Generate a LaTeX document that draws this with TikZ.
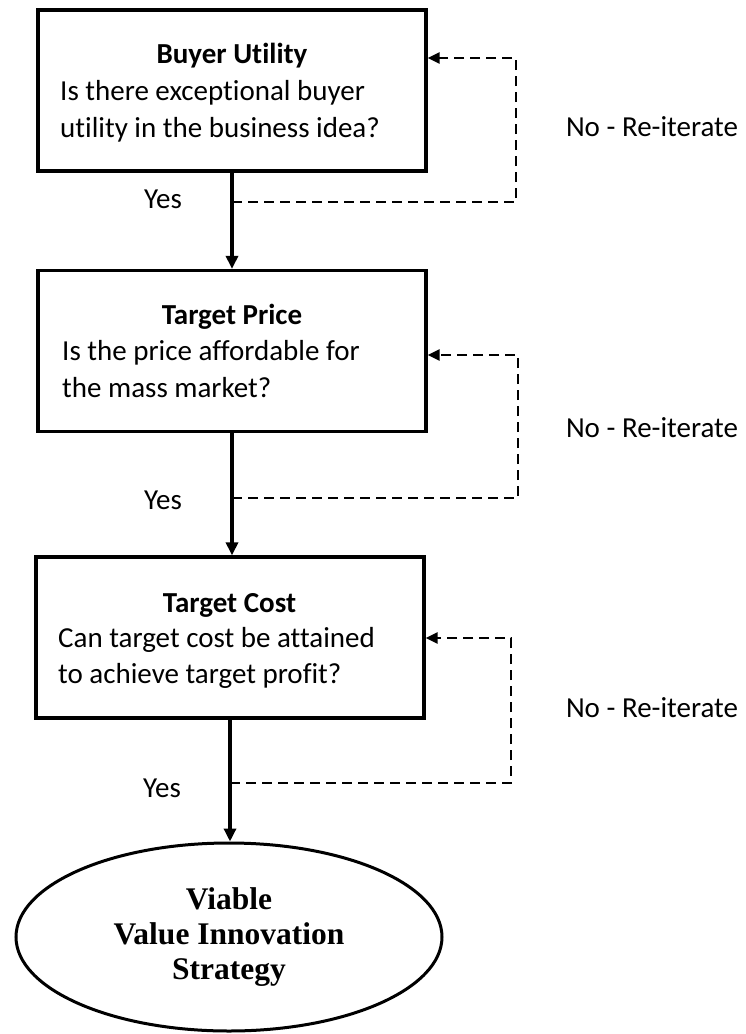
\documentclass[tikz,border=0pt]{standalone}
\usepackage{fontspec}
\setmainfont{Carlito}[Ligatures=NoCommon]
\newfontfamily\goalfont{Liberation Serif}
\usetikzlibrary{arrows.meta,shapes.geometric}
\begin{document}
\begin{tikzpicture}[x=1pt,y=-1pt,
  stepbox/.style={draw,line width=3.3pt,minimum width=388pt,minimum height=161pt,inner sep=0pt},
  boxtitle/.style={anchor=base,inner sep=0pt,font=\fontsize{29}{34}\selectfont\bfseries},
  boxline/.style={anchor=base west,inner sep=0pt,font=\fontsize{29}{34}\selectfont},
  yeslbl/.style={anchor=base,inner sep=0pt,font=\fontsize{29}{34}\selectfont},
  nolbl/.style={anchor=base,inner sep=0pt,font=\fontsize{29}{34}\selectfont},
  flow/.style={line width=3.3pt,-{Triangle[length=13pt,width=12pt]}},
  backloop/.style={dash pattern=on 10pt off 6pt,line width=2.8pt,-{Triangle[length=12pt,width=11pt]}},
  goalshape/.style={ellipse,draw,line width=3pt,minimum width=426pt,minimum height=188pt,
    inner sep=0pt,align=center,font=\fontsize{31.5}{35}\selectfont\goalfont\bfseries}
]
\useasboundingbox (0,0) rectangle (745,1034);

% decision boxes
\node[stepbox] (b1) at (232,90.5) {};
\node[stepbox] (b2) at (232,351) {};
\node[stepbox] (b3) at (230,637.5) {};

% box texts
\node[boxtitle] (t1) at (232,63) {Buyer Utility};
\node[boxline] (t1a) at (60,100) {Is there exceptional buyer};
\node[boxline] (t1b) at (60,137) {utility in the business idea?};

\node[boxtitle] (t2) at (232,324) {Target Price};
\node[boxline] (t2a) at (62,360) {Is the price affordable for};
\node[boxline] (t2b) at (62,397) {the mass market?};

\node[boxtitle] (t3) at (229.5,612) {Target Cost};
\node[boxline] (t3a) at (58,647) {Can target cost be attained};
\node[boxline] (t3b) at (58,683) {to achieve target profit?};

% final outcome
\node[goalshape] (goal) at (229,937) {Viable\\Value Innovation\\Strategy};

% main flow
\draw[flow] (b1.south) -- (b1.south |- b2.north);
\draw[flow] (b2.south) -- (b2.south |- b3.north);
\draw[flow] (b3.south) -- (b3.south |- goal.north);

% re-iteration loops
\coordinate (j1) at (232,202);
\coordinate (r1a) at (516,202);
\coordinate (r1b) at (516,58);
\draw[backloop] (j1) -- (r1a) -- (r1b) -- (r1b -| b1.east);

\coordinate (j2) at (232,498);
\coordinate (r2a) at (518,498);
\coordinate (r2b) at (518,355);
\draw[backloop] (j2) -- (r2a) -- (r2b) -- (r2b -| b2.east);

\coordinate (j3) at (230,783);
\coordinate (r3a) at (511,783);
\coordinate (r3b) at (511,638);
\draw[backloop] (j3) -- (r3a) -- (r3b) -- (r3b -| b3.east);

% answer labels
\node[yeslbl] (y1) at (163,208) {Yes};
\node[yeslbl] (y2) at (163,509) {Yes};
\node[yeslbl] (y3) at (162,797) {Yes};

\node[nolbl] (n1) at (652,136) {No - Re-iterate};
\node[nolbl] (n2) at (652,437) {No - Re-iterate};
\node[nolbl] (n3) at (652,717) {No - Re-iterate};
\end{tikzpicture}
\end{document}
